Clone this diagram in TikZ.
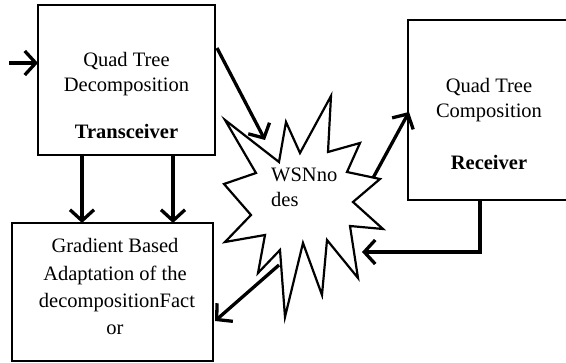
\documentclass[tikz,border=0pt]{standalone}
\usepackage{fontspec}
\setmainfont{Liberation Serif}
\usetikzlibrary{arrows.meta}
\begin{document}
\begin{tikzpicture}[x=1pt,y=-1pt,
  boxline/.style={draw,line width=2.3pt},
  txt/.style={font=\fontsize{20.5}{24.5}\selectfont,align=center,inner sep=0pt,anchor=base},
  arr/.style={line width=3.3pt,-{Straight Barb[length=11pt,width=24pt,line width=3.3pt]}},
  wire/.style={line width=3pt}]
\useasboundingbox (0,0) rectangle (566,363);
\clip (0,0) rectangle (566,363);
% boxes
\path[boxline] (38,5) rectangle (215,155);
\path[boxline] (12,223) rectangle (213,361);
\path[boxline] (408,20) rectangle (570,200);
% box named coordinates
\coordinate (trL) at (38,63);
\coordinate (trR) at (217,48);
\coordinate (trB1) at (82,155);
\coordinate (trB2) at (173,155);
\coordinate (grT1) at (82,223);
\coordinate (grT2) at (173,223);
\coordinate (grR) at (215,321);
\coordinate (rcL) at (409,112);
\coordinate (rcB) at (480,200);
\coordinate (in) at (9,63);
% texts
\node[txt] (t1) at (126.5,67) {Quad Tree};
\node[txt] (t2) at (126.5,91.5) {Decomposition};
\node[txt,font=\fontsize{20.5}{24.5}\selectfont\bfseries] (t3) at (126.5,139) {Transceiver};
\node[txt] (r1) at (489,93) {Quad Tree};
\node[txt] (r2) at (489,117.5) {Composition};
\node[txt,font=\fontsize{20.5}{24.5}\selectfont\bfseries] (r3) at (489,170) {Receiver};
\node[txt] (g1) at (115,253) {Gradient Based};
\node[txt] (g2) at (115,281) {Adaptation of the};
\node[txt] (g3) at (117,308) {decompositionFact};
\node[txt] (g4) at (115,335) {or};
% star
\draw[line width=2.2pt,line join=miter] (225,120) -- (279,162) -- (286,122) -- (300,153) -- (331,96) -- (328,152) -- (360,143) -- (347,172) -- (380,179) -- (353,202) -- (383,229) -- (350,226) -- (358,278) -- (327,240) -- (322,295) -- (303,243) -- (285,317) -- (280,250) -- (258,273) -- (265,235) -- (225,242) -- (251,215) -- (224,184) -- (256,173) -- cycle;
\node[font=\fontsize{20.5}{24.5}\selectfont,anchor=base west,inner sep=0pt] (w1) at (271,182) {WSNno};
\node[font=\fontsize{20.5}{24.5}\selectfont,anchor=base west,inner sep=0pt] (w2) at (271,207) {des};
\coordinate (stTL) at (265,140);
\coordinate (stR) at (373,178);
\coordinate (stRB) at (362,252);
\coordinate (stBL) at (279,265);
% connectors
\draw[arr] (in) -- (trL);
\draw[arr] (trR) -- (stTL);
\draw[arr] (trB1) -- (grT1);
\draw[arr] (trB2) -- (grT2);
\draw[arr] (stR) -- (rcL);
\draw[arr] (stBL) -- (grR);
\draw[arr] (rcB) |- (stRB);
\end{tikzpicture}
\end{document}
